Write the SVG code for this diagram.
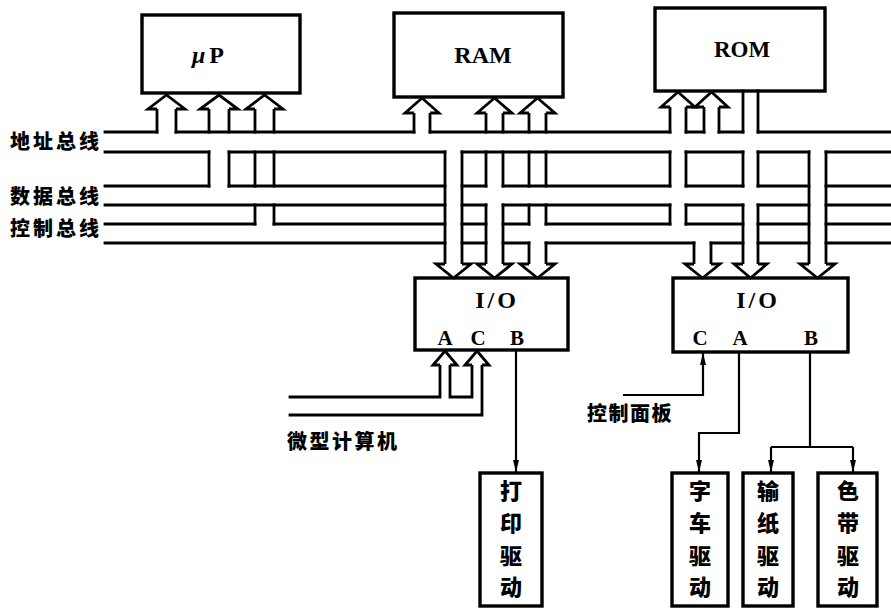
<svg xmlns="http://www.w3.org/2000/svg" width="891" height="608" viewBox="0 0 891 608">
<style>
.box{fill:#fff;stroke:#000;stroke-width:3.4}
.bus{fill:none;stroke:#000;stroke-width:2.8;stroke-linecap:square}
.head{fill:#fff;stroke:#000;stroke-width:2.8;stroke-linejoin:miter}
.wire{fill:none;stroke:#000;stroke-width:2.2}
.cn{font-family:"Noto Sans CJK SC","Noto Sans CJK TC",sans-serif;font-weight:900;font-size:20px;fill:#000}
.cnb{font-family:"Noto Sans CJK SC","Noto Sans CJK TC",sans-serif;font-weight:900;font-size:22px;fill:#000;text-anchor:middle}
.lat{font-family:"Liberation Serif",serif;font-weight:bold;fill:#000;text-anchor:middle}
</style>
<defs>
<marker id="ah" viewBox="0 0 12 6" refX="12" refY="3" markerWidth="12" markerHeight="6" markerUnits="userSpaceOnUse" orient="auto">
<path d="M0 0L12 3L0 6z" fill="#000"/>
</marker>
</defs>

<g id="uP"><rect class="box" x="142" y="15" width="158" height="78"/><text class="lat" x="210" y="63" font-size="24" letter-spacing="4"><tspan font-style="italic">μ</tspan>P</text></g>
<g id="RAM"><rect class="box" x="394" y="13" width="169" height="84"/><text class="lat" x="483" y="63" font-size="24">RAM</text></g>
<g id="ROM"><rect class="box" x="655" y="8" width="170" height="83"/><text class="lat" x="742" y="57" font-size="23">ROM</text></g>
<g id="IO1"><rect class="box" x="415" y="278" width="153" height="72"/><text class="lat" x="497" y="308" font-size="24" letter-spacing="3">I/O</text>
<text class="lat" x="445" y="345" font-size="21">A</text><text class="lat" x="478" y="345" font-size="21">C</text><text class="lat" x="517" y="345" font-size="21">B</text></g>
<g id="IO2"><rect class="box" x="673" y="278" width="175" height="74"/><text class="lat" x="758" y="308" font-size="24" letter-spacing="3">I/O</text>
<text class="lat" x="700" y="345" font-size="21">C</text><text class="lat" x="740" y="345" font-size="21">A</text><text class="lat" x="811" y="345" font-size="21">B</text></g>

<g id="print"><rect class="box" x="480" y="473" width="62" height="133"/><text class="cnb"><tspan x="511" y="499">打</tspan><tspan x="511" y="531">印</tspan><tspan x="511" y="564">驱</tspan><tspan x="511" y="595">动</tspan></text></g>
<g id="carriage"><rect class="box" x="672" y="473" width="56" height="133"/><text class="cnb"><tspan x="700" y="499">字</tspan><tspan x="700" y="531">车</tspan><tspan x="700" y="564">驱</tspan><tspan x="700" y="595">动</tspan></text></g>
<g id="paper"><rect class="box" x="743" y="473" width="50" height="133"/><text class="cnb"><tspan x="768" y="499">输</tspan><tspan x="768" y="531">纸</tspan><tspan x="768" y="564">驱</tspan><tspan x="768" y="595">动</tspan></text></g>
<g id="ribbon"><rect class="box" x="818" y="473" width="59" height="133"/><text class="cnb"><tspan x="848" y="499">色</tspan><tspan x="848" y="531">带</tspan><tspan x="848" y="564">驱</tspan><tspan x="848" y="595">动</tspan></text></g>

<g id="labels">
<text class="cn" x="10" y="149" letter-spacing="3">地址总线</text>
<text class="cn" x="10" y="204" letter-spacing="3">数据总线</text>
<text class="cn" x="10" y="236" letter-spacing="3">控制总线</text>
<text class="cn" x="287" y="449" letter-spacing="2.5">微型计算机</text>
<text class="cn" x="587" y="421" letter-spacing="1.5">控制面板</text>
</g>

<g id="connectors">
<path class="bus" d="M105 132H157M176 132H414M430 132H670M686 132H704M719 132H743M758 132H891
M105 152H209M229 152H445M462 152H670M686 152H743M758 152H809M826 152H891
M105 186H209M229 186H445M462 186H486M503 186H670M686 186H743M758 186H809M826 186H891
M105 205H445M462 205H486M503 205H670M686 205H743M758 205H809M826 205H891
M105 224H255M274 224H445M462 224H486M503 224H529M546 224H670M686 224H743M758 224H809M826 224H891
M105 243H445M462 243H486M503 243H529M546 243H694M711 243H743M758 243H809M826 243H891"/>
<path class="bus" d="M157 109V132M176 109V132
M209 109V132M229 109V132M209 152V186M229 152V186
M255 109V132M274 109V132M255 152V186M274 152V186M255 205V224M274 205V224
M414 113V132M430 113V132
M486 113V132M503 113V132M486 152V186M503 152V186
M529 113V132M546 113V132M529 152V186M546 152V186M529 205V224M546 205V224
M670 107V132M686 107V132M670 152V186M686 152V186M670 205V224M686 205V224
M704 107V132M719 107V132
M743 91V132M758 91V132M743 152V186M758 152V186
M445 152V264M462 152V264
M486 205V264M503 205V264
M529 243V264M546 243V264
M694 243V264M711 243V264
M743 205V264M758 205V264
M809 152V264M826 152V264"/>
<path class="head" d="M157 109H148L166.5 95L185 109H176"/>
<path class="head" d="M209 109H200L219 95L238 109H229"/>
<path class="head" d="M255 109H246L264.5 95L283 109H274"/>
<path class="head" d="M414 113H405L422 98L439 113H430"/>
<path class="head" d="M486 113H477L494.5 98L512 113H503"/>
<path class="head" d="M529 113H520L537.5 98L555 113H546"/>
<path class="head" d="M670 107H661L678 92L695 107H686"/>
<path class="head" d="M704 107H695L711.5 92L728 107H719"/>
<path class="head" d="M445 264H436L453.5 278L471 264H462"/>
<path class="head" d="M486 264H477L494.5 278L512 264H503"/>
<path class="head" d="M529 264H520L537.5 278L555 264H546"/>
<path class="head" d="M694 264H685L702.5 278L720 264H711"/>
<path class="head" d="M743 264H734L750.5 278L767 264H758"/>
<path class="head" d="M809 264H800L817.5 278L835 264H826"/>
<path class="bus" d="M440 365V397H290M450 365V397H472V365M482 365V415H290"/>
<path class="head" d="M440 365H433L445 351L457 365H450"/>
<path class="head" d="M472 365H465L477 351L489 365H482"/>
<path class="wire" d="M516 350V472" marker-end="url(#ah)"/>
<path class="wire" d="M739 352V433H699V472" marker-end="url(#ah)"/>
<path class="wire" d="M810 352V447"/>
<path class="wire" d="M771 447H853"/>
<path class="wire" d="M771 447V472" marker-end="url(#ah)"/>
<path class="wire" d="M853 447V472" marker-end="url(#ah)"/>
<path class="wire" d="M623 395H703V353" marker-end="url(#ah)"/>
</g>
</svg>
